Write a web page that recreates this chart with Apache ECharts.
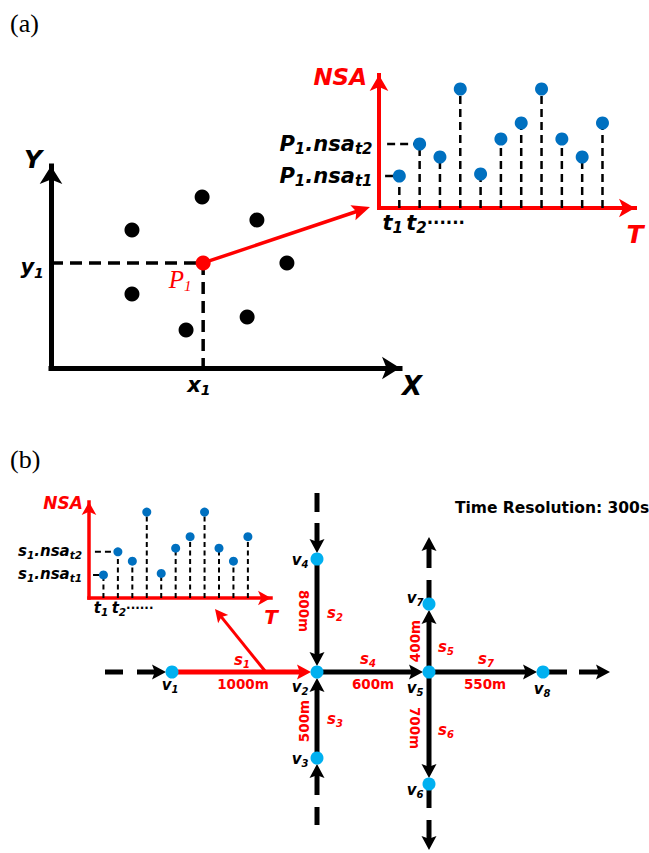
<!DOCTYPE html>
<html><head><meta charset="utf-8">
<script src="https://cdn.jsdelivr.net/npm/echarts@6/dist/echarts.min.js"></script>
<style>html,body{margin:0;padding:0;background:#fff}#c{width:649px;height:853px}</style>
</head><body><div id="c"></div>
<script>
// ================= DATA =================
// Panel (a): spatial points in the X-Y plane (0-100 units)
const pointX = [43.3, 59.0, 23.2, 67.6, 23.2, 56.2, 38.7];
const pointY = [84.7, 73.3, 68.3, 52.0, 36.6, 25.2, 18.8];
const p1X = 43.6, p1Y = 52.0;            // selected point P1 = (x1, y1)
const linkTarget = [91.4, 79.7];         // where the P1 -> NSA arrow points

// NSA time series (same pattern in both insets)
const timeSteps = [1, 2, 3, 4, 5, 6, 7, 8, 9, 10, 11];
const nsaValues = [32, 64, 51, 119, 34, 69, 85, 119, 69, 51, 85];

// Panel (b): road network
const nodeNames = ['v1', 'v2', 'v3', 'v4', 'v5', 'v6', 'v7', 'v8'];
const nodeX = [72, 217, 217, 217, 329, 329, 329, 443];
const nodeY = [192, 192, 278, 79, 192, 304, 124, 192];
const stubNames = ['L0','L1','L2','T0','T1','T2','B0','B1','B2','U1','U2','U3','D1','D2','D3','R1','R2','R3'];
const stubX = [5, 23, 37, 217, 217, 217, 217, 217, 217, 329, 329, 329, 329, 329, 329, 467, 479, 510];
const stubY = [192, 192, 192, 13, 32, 43, 327, 345, 315, 100, 88, 57, 328, 340, 370, 192, 192, 192];
const roadFrom = ['L0','L2','v1','T0','T2','v4','v3','B2','B0','v2','v5','v7','U2','v5','v6','D2','v5','v8','R2'];
const roadTo   = ['L1','v1','v2','T1','v4','v2','v2','v3','B1','v5','v7','U1','U3','v6','D1','D3','v8','R1','R3'];
const roadKind = [0, 1, 2, 0, 1, 1, 1, 1, 0, 1, 1, 0, 1, 1, 0, 1, 1, 0, 1]; // 0 plain, 1 arrow, 2 highlighted arrow
const segNames = ['s1', 's2', 's3', 's4', 's5', 's6', 's7'];
const segLengths = [1000, 800, 500, 600, 400, 700, 550];
const s1Link = [165, 191, 115, 129];
const timeResolution = 300;

// ================= LAYOUT =================
const nodeLabelPos = [[70,205],[200,207],[200,279],[200,80],[315,208],[315,310],[315,118],[442,209]];
const segNamePos = [[142,180],[235,133],[235,239],[268,179],[346,167],[346,250],[386,179]];
const segLenPos = [[143,204,0],[204,131,-90],[204,241,90],[273,204,0],[315,161,90],[315,248,-90],[385,204,0]];

const RED = '#FF0000', BLUE = '#0070C0', NODE = '#00B0F0';
const HEAVY = {fontFamily: 'DejaVu Sans', fontWeight: 'bold', fontStyle: 'italic'};

function richSet(main, sub, color) {
  return {
    mm: Object.assign({}, HEAVY, {fontSize: main, color: color, lineHeight: main + 4}),
    ss: Object.assign({}, HEAVY, {fontSize: sub, color: color, lineHeight: sub + 1, verticalAlign: 'bottom'}),
    dt: {fontFamily: 'DejaVu Sans', fontWeight: 'bold', fontSize: main * 0.8, color: color, lineHeight: main + 4}
  };
}

function textSeries(xi, yi, items, rich, color) {
  return {
    type: 'scatter', xAxisIndex: xi, yAxisIndex: yi, symbolSize: 1, silent: true, z: 20, clip: false,
    itemStyle: {color: 'rgba(0,0,0,0)', opacity: 1},
    label: {show: true, position: 'inside', color: color || '#000', opacity: 1, rich: rich},
    labelLayout: {hideOverlap: false},
    data: items.map(function (it) {
      return {value: [it[0], it[1]], label: Object.assign({formatter: it[2], rotate: it[3] || 0}, it[4] || {})};
    })
  };
}

function arrowRender(lw, hl, hw) {
  return function (params, api) {
    const a = api.coord([api.value(0), api.value(1)]);
    const b = api.coord([api.value(2), api.value(3)]);
    const kind = api.value(4);
    const gap = api.value(5) ? 6 : 0;
    const color = kind >= 2 ? RED : '#000';
    const dx = b[0] - a[0], dy = b[1] - a[1], L = Math.hypot(dx, dy);
    const ux = dx / L, uy = dy / L, nx = -uy, ny = ux;
    const tip = [b[0] - ux * gap, b[1] - uy * gap];
    const children = [];
    const end = kind ? [tip[0] - ux * hl * 0.7, tip[1] - uy * hl * 0.7] : b;
    children.push({type: 'line', shape: {x1: a[0], y1: a[1], x2: end[0], y2: end[1]},
      style: {stroke: color, lineWidth: lw}});
    if (kind) {
      const bx = tip[0] - ux * hl, by = tip[1] - uy * hl;
      children.push({type: 'polygon', shape: {points: [tip, [bx + nx * hw, by + ny * hw],
        [tip[0] - ux * hl * 0.8, tip[1] - uy * hl * 0.8], [bx - nx * hw, by - ny * hw]]},
        style: {fill: color}});
    }
    return {type: 'group', children: children};
  };
}

function hSegRender(lw, dash) {
  return function (params, api) {
    const a = api.coord([api.value(0), api.value(1)]);
    const b = api.coord([api.value(2), api.value(3)]);
    return {type: 'line', shape: {x1: a[0], y1: a[1], x2: b[0], y2: b[1]},
      style: {stroke: '#000', lineWidth: lw, lineDash: dash}};
  };
}

function stemRender(lw, dash) {
  return function (params, api) {
    const a = api.coord([api.value(0), 0]);
    const b = api.coord([api.value(0), api.value(1)]);
    return {type: 'line', shape: {x1: a[0], y1: a[1], x2: b[0], y2: b[1]},
      style: {stroke: '#000', lineWidth: lw, lineDash: dash}};
  };
}

function axisBase(gi, min, max, line, name, nameOpt) {
  return Object.assign({
    type: 'value', gridIndex: gi, min: min, max: max,
    axisTick: {show: false}, axisLabel: {show: false}, splitLine: {show: false},
    axisLine: line ? Object.assign({show: true, onZero: false}, line) : {show: false},
    name: name || ''
  }, nameOpt || {});
}

function dots(xi, yi, size, color, data, z) {
  return {type: 'scatter', xAxisIndex: xi, yAxisIndex: yi, symbolSize: size, z: z || 5, silent: true, clip: false,
    itemStyle: {color: color, opacity: 1}, data: data};
}

const stemPairs = timeSteps.map(function (t, i) { return [t, nsaValues[i]]; });

const axA = {symbol: ['none', 'arrow'], symbolSize: [17, 18], lineStyle: {color: '#000', width: 5, cap: 'square'}};
const axA2 = {symbol: ['none', 'arrow'], symbolSize: [14, 16], lineStyle: {color: RED, width: 4, cap: 'square'}};
const axB = {symbol: ['none', 'arrow'], symbolSize: [11, 13], lineStyle: {color: RED, width: 3.5, cap: 'square'}};

const nameStyle = function (size, color, extra) {
  return Object.assign({}, HEAVY, {fontSize: size, color: color}, extra);
};

const pts = {};
nodeNames.forEach(function (n, i) { pts[n] = [nodeX[i], nodeY[i]]; });
stubNames.forEach(function (n, i) { pts[n] = [stubX[i], stubY[i]]; });
const roadData = roadFrom.map(function (f, i) {
  const t = roadTo[i];
  return [pts[f][0], pts[f][1], pts[t][0], pts[t][1], roadKind[i], nodeNames.indexOf(t) >= 0 ? 1 : 0];
});

const richA = richSet(21, 14, '#000');
const richA2 = richSet(21, 15, '#000');
const richB = richSet(15, 10.5, '#000');
const richNode = richSet(15, 10, '#000');
const richSeg = richSet(15, 10, RED);
const richP = {
  pp: {fontFamily: 'Liberation Serif', fontStyle: 'italic', fontSize: 25, color: RED, lineHeight: 27},
  qq: {fontFamily: 'Liberation Serif', fontStyle: 'italic', fontSize: 15, color: RED, lineHeight: 16, verticalAlign: 'bottom'}
};
const lenStyle = {fontFamily: 'DejaVu Sans', fontWeight: 'bold', fontSize: 13.5, color: RED};

const option = {
  animation: false,
  backgroundColor: '#fff',
  title: [
    {text: '(a)', left: 5, top: 5, textStyle: {fontFamily: 'Liberation Serif', fontWeight: 'normal', fontSize: 26, color: '#000'}},
    {text: '(b)', left: 5, top: 441, textStyle: {fontFamily: 'Liberation Serif', fontWeight: 'normal', fontSize: 26, color: '#000'}}
  ],
  grid: [
    {left: 51, top: 166, width: 349, height: 202, outerBoundsMode: 'none'},
    {left: 379, top: 75, width: 256, height: 133, outerBoundsMode: 'none'},
    {left: 89, top: 502, width: 182, height: 96, outerBoundsMode: 'none'},
    {left: 100, top: 480, width: 520, height: 373, outerBoundsMode: 'none'}
  ],
  xAxis: [
    axisBase(0, 0, 100, axA, 'X', {nameLocation: 'end', nameGap: 12,
      nameTextStyle: nameStyle(26, '#000', {align: 'center', verticalAlign: 'top', padding: [5, 0, 0, 0]})}),
    axisBase(1, 0, 12.6, axA2, 'T', {nameLocation: 'end', nameGap: 0,
      nameTextStyle: nameStyle(25, RED, {align: 'center', verticalAlign: 'top', padding: [14, 0, 0, 0]})}),
    axisBase(2, 0, 12.6, axB, 'T', {nameLocation: 'end', nameGap: 0,
      nameTextStyle: nameStyle(20, RED, {align: 'center', verticalAlign: 'top', padding: [9, 0, 0, 0]})}),
    axisBase(3, 0, 520, null)
  ],
  yAxis: [
    axisBase(0, 0, 100, axA, 'Y', {nameLocation: 'end', nameGap: 7,
      nameTextStyle: nameStyle(25, '#000', {align: 'right', verticalAlign: 'middle', padding: [0, 9, 0, 0]})}),
    axisBase(1, 0, 133, axA2, 'NSA', {nameLocation: 'end', nameGap: -2,
      nameTextStyle: nameStyle(23, RED, {align: 'right', verticalAlign: 'middle', padding: [0, 12, 0, 0]})}),
    axisBase(2, 0, 133, axB, 'NSA', {nameLocation: 'end', nameGap: -1,
      nameTextStyle: nameStyle(17, RED, {align: 'right', verticalAlign: 'middle', padding: [0, 6, 0, 0]})}),
    axisBase(3, 0, 373, null, '', {inverse: true})
  ],
  series: [
    // ---------- panel (a) X-Y plane ----------
    {type: 'custom', xAxisIndex: 0, yAxisIndex: 0, clip: false, z: 2, silent: true,
      renderItem: hSegRender(3.5, [12, 7]),
      data: [[0, p1Y, p1X, p1Y], [p1X, p1Y, p1X, 0]]},
    {type: 'custom', xAxisIndex: 0, yAxisIndex: 0, clip: false, z: 3, silent: true,
      renderItem: arrowRender(3.5, 18, 8),
      data: [[p1X, p1Y, linkTarget[0], linkTarget[1], 3, 0]]},
    dots(0, 0, 15, '#000', pointX.map(function (x, i) { return [x, pointY[i]]; })),
    dots(0, 0, 15, RED, [[p1X, p1Y]], 6),
    textSeries(0, 0, [
      [-5.4, 50.0, '{mm|y}{ss|1}'],
      [42.4, -8.4, '{mm|x}{ss|1}'],
      [37.0, 43.6, '{pp|P}{qq|1}']
    ], Object.assign({}, richA, richP)),

    // ---------- panel (a) NSA stem chart ----------
    {type: 'custom', xAxisIndex: 1, yAxisIndex: 1, clip: false, z: 2, silent: true,
      renderItem: stemRender(2.5, [8, 5]), data: stemPairs},
    {type: 'custom', xAxisIndex: 1, yAxisIndex: 1, clip: false, z: 2, silent: true,
      renderItem: hSegRender(2.5, [8, 5]),
      data: [[0.3, nsaValues[0], 1, nsaValues[0]], [0.4, nsaValues[1], 2, nsaValues[1]]]},
    dots(1, 1, 13, BLUE, stemPairs),
    textSeries(1, 1, [
      [-2.61, nsaValues[1], '{mm|P}{ss|1}{mm|.nsa}{ss|t2}'],
      [-2.61, nsaValues[0], '{mm|P}{ss|1}{mm|.nsa}{ss|t1}'],
      [2.2, -15, '{mm|t}{ss|1} {mm|t}{ss|2}{dt|······}']
    ], richA2),

    // ---------- panel (b) inset stem chart ----------
    {type: 'custom', xAxisIndex: 2, yAxisIndex: 2, clip: false, z: 2, silent: true,
      renderItem: stemRender(2, [5, 3.5]), data: stemPairs},
    {type: 'custom', xAxisIndex: 2, yAxisIndex: 2, clip: false, z: 2, silent: true,
      renderItem: hSegRender(2, [6, 4]),
      data: [[0.28, nsaValues[0], 1, nsaValues[0]], [0.41, nsaValues[1], 2, nsaValues[1]]]},
    dots(2, 2, 9, BLUE, stemPairs),
    textSeries(2, 2, [
      [-2.70, nsaValues[1] + 1, '{mm|s}{ss|1}{mm|.nsa}{ss|t2}'],
      [-2.70, nsaValues[0] + 1, '{mm|s}{ss|1}{mm|.nsa}{ss|t1}'],
      [2.4, -14, '{mm|t}{ss|1} {mm|t}{ss|2}{dt|······}']
    ], richB),

    // ---------- panel (b) road network ----------
    {type: 'custom', xAxisIndex: 3, yAxisIndex: 3, clip: false, z: 2, silent: true,
      renderItem: arrowRender(5, 14, 7.5), data: roadData},
    {type: 'custom', xAxisIndex: 3, yAxisIndex: 3, clip: false, z: 3, silent: true,
      renderItem: arrowRender(3, 13, 6.5), data: [[s1Link[0], s1Link[1], s1Link[2], s1Link[3], 3, 0]]},
    dots(3, 3, 13, NODE, nodeNames.map(function (n, i) { return [nodeX[i], nodeY[i]]; }), 6),
    textSeries(3, 3, nodeNames.map(function (n, i) {
      return [nodeLabelPos[i][0], nodeLabelPos[i][1], '{mm|v}{ss|' + n.slice(1) + '}'];
    }), richNode),
    textSeries(3, 3, segNames.map(function (s, i) {
      return [segNamePos[i][0], segNamePos[i][1], '{mm|s}{ss|' + s.slice(1) + '}'];
    }), richSeg, RED),
    textSeries(3, 3, segLengths.map(function (v, i) {
      return [segLenPos[i][0], segLenPos[i][1], v + 'm', segLenPos[i][2], lenStyle];
    }), {}, RED),
    textSeries(3, 3, [[452, 28, 'Time Resolution: ' + timeResolution + 's', 0,
      {fontFamily: 'DejaVu Sans', fontWeight: 'bold', fontSize: 15.5, color: '#000'}]], {}, '#000')
  ]
};

const chart = echarts.init(document.getElementById('c'), null, {renderer: 'svg', width: 649, height: 853});
chart.setOption(option);
</script>
</body></html>
